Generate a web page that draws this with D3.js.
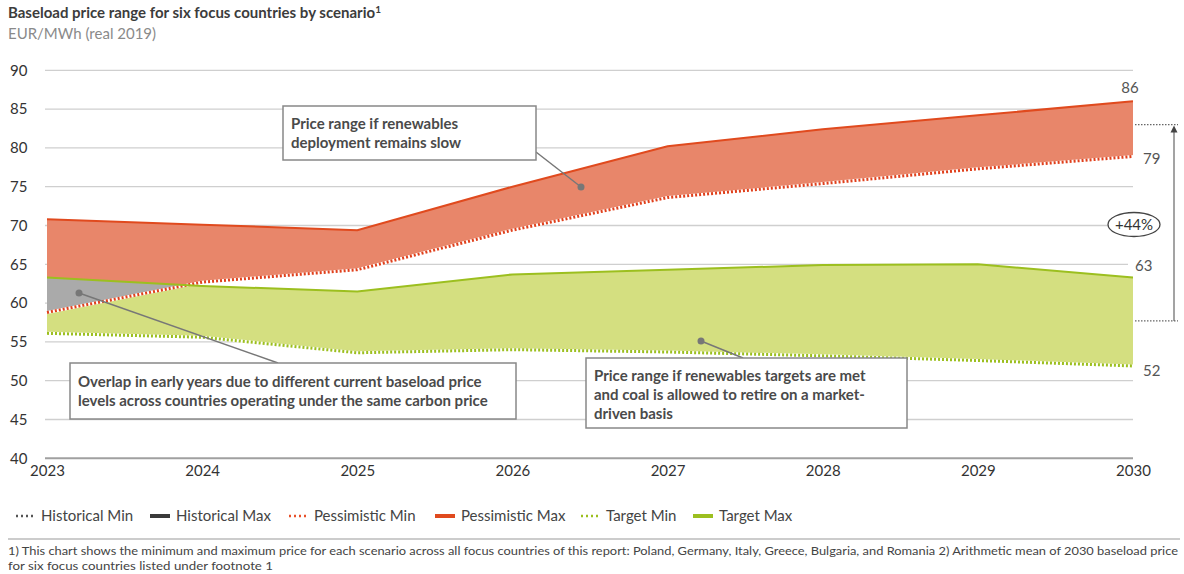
<!DOCTYPE html>
<html><head><meta charset="utf-8">
<script src="https://cdn.jsdelivr.net/npm/d3@7"></script>
<style>
body{margin:0;background:#fff;}
svg{display:block;font-family:Lato,"Open Sans",sans-serif;}
</style></head>
<body>
<svg id="c" width="1184" height="574"></svg>
<script>
const years = [2023, 2024, 2025, 2026, 2027, 2028, 2029, 2030];
const pessimisticMax = [70.8, 70.1, 69.4, 75.0, 80.2, 82.4, 84.2, 86.0];
const pessimisticMin = [58.8, 62.7, 64.3, 69.4, 73.6, 75.4, 77.3, 78.9];
const targetMax = [63.3, 62.2, 61.5, 63.7, 64.3, 64.9, 65.0, 63.3];
const targetMin = [56.1, 55.6, 53.6, 54.0, 53.7, 53.2, 52.6, 51.9];
const historicalMin = [];
const historicalMax = [];
const yTicks = [40, 45, 50, 55, 60, 65, 70, 75, 80, 85, 90];
const endLabels = ["86", "79", "63", "52"];
const meanPessimistic2030 = 83.0;
const meanTarget2030 = 57.7;
const changeLabel = "+44%";
const legendItems = [
  {name: "Historical Min", color: "#555555", dotted: true},
  {name: "Historical Max", color: "#3a3a3a", dotted: false},
  {name: "Pessimistic Min", color: "#e8502a", dotted: true},
  {name: "Pessimistic Max", color: "#e04a1e", dotted: false},
  {name: "Target Min", color: "#9cbf1f", dotted: true},
  {name: "Target Max", color: "#9cbf1f", dotted: false}
];

const svg = d3.select("#c");
const x = d3.scaleLinear().domain([2023, 2030]).range([47, 1133]);
const y = d3.scaleLinear().domain([40, 90]).range([458.3, 70.3]);

// title
const t = svg.append("text").attr("x", 8).attr("y", 18).attr("font-size", 15).attr("font-weight", 700).attr("fill", "#3c3c3c");
t.append("tspan").text("Baseload price range for six focus countries by scenario");
t.append("tspan").attr("font-size", 10).attr("dy", -5).text("1");
svg.append("text").attr("x", 8).attr("y", 39).attr("font-size", 15).attr("fill", "#8a8a8a").text("EUR/MWh (real 2019)");

// grid
const gridEnd = {70: 1110, 65: 1128};
svg.append("g").selectAll("line").data(yTicks).join("line")
  .attr("x1", 45).attr("x2", d => gridEnd[d] || 1133)
  .attr("y1", d => y(d)).attr("y2", d => y(d))
  .attr("stroke", d => d === 40 ? "#a0a0a0" : "#cfcfcf")
  .attr("stroke-width", d => d === 40 ? 2 : 1.3);

// y axis labels
const yAxis = d3.axisLeft(y).tickValues(yTicks).tickSize(0).tickPadding(0);
const ya = svg.append("g").attr("transform", "translate(10,0)").call(yAxis);
ya.select(".domain").remove();
ya.selectAll("text").attr("text-anchor", "start").attr("font-size", 15).attr("fill", "#333").attr("font-family", "Lato");

// x axis labels
const xAxis = d3.axisBottom(x).tickValues(years).tickFormat(d3.format("d")).tickSize(0).tickPadding(0);
const xa = svg.append("g").attr("transform", "translate(0,465)").call(xAxis);
xa.select(".domain").remove();
xa.selectAll("text").attr("font-size", 15).attr("fill", "#333").attr("font-family", "Lato");

const idx = d3.range(years.length);
const areaP = d3.area().x(i => x(years[i])).y0(i => y(pessimisticMin[i])).y1(i => y(pessimisticMax[i]));
const areaT = d3.area().x(i => x(years[i])).y0(i => y(targetMin[i])).y1(i => y(targetMax[i]));

const defs = svg.append("defs");
defs.append("clipPath").attr("id", "clipT").append("path").attr("d", areaT(idx));

svg.append("path").attr("d", areaP(idx)).attr("fill", "#e8866a");
svg.append("path").attr("d", areaT(idx)).attr("fill", "#d4df80");
svg.append("path").attr("d", areaP(idx)).attr("fill", "#aaaaaa").attr("clip-path", "url(#clipT)");

const line = arr => d3.line().x(i => x(years[i])).y(i => y(arr[i]))(idx);
// min lines dotted on white
svg.append("path").attr("d", line(targetMin)).attr("fill", "none").attr("stroke", "#fff").attr("stroke-width", 3);
svg.append("path").attr("d", line(targetMin)).attr("fill", "none").attr("stroke", "#9cbf1f").attr("stroke-width", 3).attr("stroke-dasharray", "2,2");
svg.append("path").attr("d", line(pessimisticMin)).attr("fill", "none").attr("stroke", "#fff").attr("stroke-width", 3);
svg.append("path").attr("d", line(pessimisticMin)).attr("fill", "none").attr("stroke", "#e0401c").attr("stroke-width", 3).attr("stroke-dasharray", "2,2");
svg.append("path").attr("d", line(targetMax)).attr("fill", "none").attr("stroke", "#9cbf1f").attr("stroke-width", 2);
svg.append("path").attr("d", line(pessimisticMax)).attr("fill", "none").attr("stroke", "#e04a1e").attr("stroke-width", 2);

// end labels
const last = years.length - 1;
const endVals = [pessimisticMax[last], pessimisticMin[last], targetMax[last], targetMin[last]];
const endPos = [[1130, -13, "middle"], [1143, 3, "start"], [1135, -11, "start"], [1143, 5, "start"]];
endVals.forEach((v, i) => {
  svg.append("text").attr("x", endPos[i][0]).attr("y", y(v) + endPos[i][1] + 5)
    .attr("text-anchor", endPos[i][2]).attr("font-size", 15).attr("fill", "#555").text(endLabels[i]);
});

// mean lines and arrow
[meanPessimistic2030, meanTarget2030].forEach(v => {
  svg.append("line").attr("x1", 1135).attr("x2", 1178).attr("y1", y(v)).attr("y2", y(v))
    .attr("stroke", "#666").attr("stroke-width", 1.3).attr("stroke-dasharray", "1.5,1.5");
});
svg.append("line").attr("x1", 1174).attr("x2", 1174).attr("y1", y(meanTarget2030)).attr("y2", y(meanPessimistic2030) + 6)
  .attr("stroke", "#666").attr("stroke-width", 1.2);
svg.append("path").attr("d", `M1174,${y(meanPessimistic2030)+1} l-3.5,7 l7,0 z`).attr("fill", "#444");
svg.append("ellipse").attr("cx", 1134).attr("cy", 224.5).attr("rx", 26).attr("ry", 12).attr("fill", "#fff").attr("stroke", "#444").attr("stroke-width", 1.3);
svg.append("text").attr("x", 1134).attr("y", 229.5).attr("text-anchor", "middle").attr("font-size", 15).attr("fill", "#333").text(changeLabel);

// annotations
function note(bx, by, bw, bh, lines, base, gap, dot, end) {
  svg.append("line").attr("x1", dot[0]).attr("y1", dot[1]).attr("x2", end[0]).attr("y2", end[1]).attr("stroke", "#777").attr("stroke-width", 1.5);
  svg.append("circle").attr("cx", dot[0]).attr("cy", dot[1]).attr("r", 3.5).attr("fill", "#777");
  svg.append("rect").attr("x", bx).attr("y", by).attr("width", bw).attr("height", bh).attr("fill", "#fff").attr("stroke", "#888").attr("stroke-width", 1.5);
  lines.forEach((l, i) => svg.append("text").attr("x", bx + 8).attr("y", base + i * gap).attr("font-size", 15).attr("font-weight", 700).attr("fill", "#4a4a4a").text(l));
}
note(283, 106, 253, 54, ["Price range if renewables", "deployment remains slow"], 129, 19, [581, 187], [536, 152]);
note(70, 363, 446, 56, ["Overlap in early years due to different current baseload price", "levels across countries operating under the same carbon price"], 387, 19, [79, 293], [278, 363]);
note(586, 358, 321, 70, ["Price range if renewables targets are met", "and coal is allowed to retire on a market-", "driven basis"], 381, 19, [701, 341], [743, 358]);

// legend
const lg = svg.append("g");
const starts = [15, 150, 288, 435, 580, 693];
legendItems.forEach((it, i) => {
  const g = lg.append("g").attr("transform", `translate(${starts[i]},516)`);
  if (it.dotted) {
    g.append("line").attr("x1", 1).attr("x2", 20).attr("y1", 0).attr("y2", 0).attr("stroke", it.color).attr("stroke-width", 2.5).attr("stroke-dasharray", "2,3");
  } else {
    g.append("line").attr("x1", 0).attr("x2", 20).attr("y1", 0).attr("y2", 0).attr("stroke", it.color).attr("stroke-width", 4);
  }
  g.append("text").attr("x", 26).attr("y", 5).attr("font-size", 15).attr("fill", "#444").text(it.name);
});

// footnote
svg.append("line").attr("x1", 8).attr("x2", 1180).attr("y1", 539).attr("y2", 539).attr("stroke", "#bbb").attr("stroke-width", 1.5);
svg.append("text").attr("x", 8).attr("y", 555).attr("font-size", 12).attr("fill", "#444")
  .attr("textLength", 1170).attr("lengthAdjust", "spacingAndGlyphs")
  .text("1) This chart shows the minimum and maximum price for each scenario across all focus countries of this report: Poland, Germany, Italy, Greece, Bulgaria, and Romania 2) Arithmetic mean of 2030 baseload price");
svg.append("text").attr("x", 8).attr("y", 570).attr("font-size", 12).attr("fill", "#444")
  .attr("textLength", 265).attr("lengthAdjust", "spacingAndGlyphs")
  .text("for six focus countries listed under footnote 1");
</script>
</body></html>
